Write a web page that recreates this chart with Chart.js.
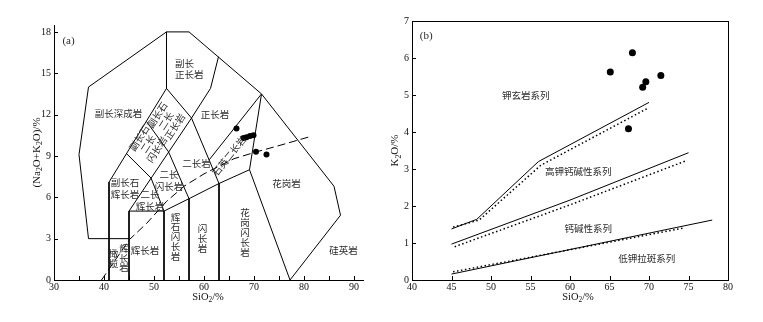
<!DOCTYPE html>
<html>
<head>
<meta charset="utf-8">
<script src="https://cdn.jsdelivr.net/npm/chart.js@4.4.0/dist/chart.umd.min.js"></script>
<style>
html, body { margin: 0; padding: 0; background: #fff; }
#wrap { position: relative; width: 763px; height: 322px; }
canvas { position: absolute; top: 0; }
</style>
</head>
<body>
<div id="wrap">
<canvas id="tas" width="380" height="322" style="left:0"></canvas>
<canvas id="kso" width="383" height="322" style="left:380px"></canvas>
</div>
<script>
// ---- (a) SiO2 vs Na2O+K2O field boundaries ----
const tasOuter = [[36.9,14],[52.5,18],[57,18],[71.5,13.5],[86,6.8],[87.3,4.7],[77.2,0]];
const tasLeft = [[36.9,14],[35,9.1],[36.9,3],[45,3]];
const foidSyeniteBase = [[52.5,18],[52.5,13.9],[57.5,11.75]];
const foidLine1 = [[52.5,13.9],[41,7.1],[41,0]];
const foidLine2 = [[57.5,11.75],[45,5],[45,0]];
const syeniteLeft = [[62.9,16.2],[61.3,13.9],[57.5,11.75],[63,7]];
const crossUpper = [[48.5,11.5],[52.9,9.3],[57,5.9]];
const crossLower = [[44.5,9.17],[49.4,7.4],[52,5]];
const subalkTop = [[45,5],[52,5],[57,5.9],[63,7],[69.1,8]];
const gabbroDiv = [[52,5],[52,0]];
const dioriteDiv = [[57,5.9],[57,0]];
const granodioriteDiv = [[63,7],[63,0]];
const graniteLeft = [[71.5,13.5],[69.1,8],[77.2,0]];
const qzMonzoniteDiv = [[61,8.7],[71.5,13.5]];
const alkalineDivide = [[39.5,0],[45,2.9],[48.5,4.1],[52.5,5.7],[56,6.8],[60,7.7],[66,8.8],[70.5,9.3],[75,9.75],[81.2,10.4]];
const samplesA = [[66.5,11.0],[67.9,10.3],[68.5,10.35],[69.2,10.45],[69.9,10.5],[70.4,9.3],[72.5,9.1]];
const tasXTicks = [30,35,40,45,50,55,60,65,70,75,80,85,90];
const tasXLabels = [30,40,50,60,70,80,90];
const tasYLabels = [0,3,6,9,12,15,18];

// ---- (b) SiO2 vs K2O series boundaries ----
const shoshSolid = [[45,1.38],[48.2,1.64],[56,3.2],[70,4.8]];
const shoshDotted = [[45.2,1.43],[48.5,1.62],[56.3,3.1],[70,4.66]];
const highKSolid = [[45,0.97],[60,2.16],[75,3.44]];
const highKDotted = [[45.4,0.9],[60,2.03],[74.8,3.23]];
const lowKSolid = [[45,0.16],[78,1.62]];
const lowKDotted = [[45.2,0.22],[74.5,1.41]];
const samplesB = [[65.1,5.62],[67.9,6.14],[69.6,5.36],[69.2,5.21],[71.5,5.53],[67.4,4.09]];
const ksoXLabels = [40,45,50,55,60,65,70,75,80];
const ksoYLabels = [0,1,2,3,4,5,6,7];

const cnFont = '9.5px "Noto Sans CJK SC"';
const serif = '"Liberation Serif", "Times New Roman", serif';

const tasLabels = [
  { t: ['(a)'], x: 32.9, y: 17.3, font: '11px ' + serif },
  { t: ['副长', '正长岩'], x: 54.2, y: 15.33, align: 'left' },
  { t: ['副长深成岩'], x: 42.9, y: 12.11 },
  { t: ['正长岩'], x: 62.2, y: 11.99 },
  { t: ['副长石', '二长', '正长岩'], x: 52.4, y: 11.55, rot: -57, lh: 10.5 },
  { t: ['副长石', '二长', '闪长岩'], x: 48.8, y: 9.88, rot: -57, lh: 10.5 },
  { t: ['二长岩'], x: 58.5, y: 8.48 },
  { t: ['石英二长岩'], x: 65, y: 9.0, rot: -51.5 },
  { t: ['二长', '闪长岩'], x: 53, y: 7.23 },
  { t: ['副长石', '辉长岩'], x: 44.2, y: 6.66 },
  { t: ['二长', '辉长岩'], x: 49.2, y: 5.78 },
  { t: ['辉长岩'], x: 48.2, y: 2.18 },
  { t: ['橄榄'], x: 41.9, y: 1.58, vertical: true },
  { t: ['辉长岩'], x: 44, y: 1.6, vertical: true },
  { t: ['辉石闪长岩'], x: 54.3, y: 3.15, vertical: true },
  { t: ['闪长岩'], x: 59.7, y: 3.03, vertical: true },
  { t: ['花岗闪长岩'], x: 68.2, y: 3.45, vertical: true },
  { t: ['花岗岩'], x: 76.5, y: 7.03 },
  { t: ['硅英岩'], x: 87.9, y: 2.18 }
];
const ksoLabels = [
  { t: ['(b)'], x: 41.8, y: 6.6, font: '11px ' + serif },
  { t: ['钾玄岩系列'], x: 54.4, y: 4.98 },
  { t: ['高钾钙碱性系列'], x: 61.05, y: 2.94 },
  { t: ['钙碱性系列'], x: 62.3, y: 1.40 },
  { t: ['低钾拉斑系列'], x: 69.7, y: 0.59 }
];

function pts(arr) { return arr.map(p => ({ x: p[0], y: p[1] })); }
function lineSet(arr, extra) {
  return Object.assign({ data: pts(arr), showLine: true, pointRadius: 0, borderColor: '#000',
    borderWidth: 1, fill: false }, extra || {});
}

function drawRich(ctx, parts, cx, cy, rot, size) {
  const big = size + 'px ' + serif, small = (size * 0.7) + 'px ' + serif;
  ctx.save();
  ctx.translate(cx, cy);
  ctx.rotate(rot);
  ctx.fillStyle = '#111';
  ctx.textBaseline = 'middle';
  ctx.textAlign = 'left';
  let w = 0;
  parts.forEach(p => { ctx.font = p[1] ? small : big; w += ctx.measureText(p[0]).width; });
  let xx = -w / 2;
  parts.forEach(p => {
    ctx.font = p[1] ? small : big;
    ctx.fillText(p[0], xx, p[1] ? size * 0.3 : 0);
    xx += ctx.measureText(p[0]).width;
  });
  ctx.restore();
}

const decor = {
  id: 'decor',
  afterDraw(chart, args, o) {
    const { ctx, chartArea: a, scales: { x, y } } = chart;
    ctx.save();
    ctx.strokeStyle = '#000';
    ctx.lineWidth = 1;
    if (o.frame) ctx.strokeRect(Math.round(a.left) + 0.5, Math.round(a.top) + 0.5,
      Math.round(a.right - a.left), Math.round(a.bottom - a.top));
    // inner ticks
    ctx.beginPath();
    o.xTicks.forEach(v => {
      const px = Math.round(x.getPixelForValue(v)) + 0.5;
      ctx.moveTo(px, a.bottom); ctx.lineTo(px, a.bottom - 4);
    });
    o.yTicks.forEach(v => {
      const py = Math.round(y.getPixelForValue(v)) + 0.5;
      ctx.moveTo(a.left, py); ctx.lineTo(a.left + 4, py);
    });
    ctx.stroke();
    ctx.restore();
    // axis titles
    drawRich(ctx, o.xTitle, o.xTitlePos[0], o.xTitlePos[1], 0, 10.5);
    drawRich(ctx, o.yTitle, o.yTitlePos[0], (a.top + a.bottom) / 2, -Math.PI / 2, 11);
    // field labels
    o.labels.forEach(l => {
      const px = x.getPixelForValue(l.x), py = y.getPixelForValue(l.y);
      ctx.save();
      ctx.translate(px, py);
      ctx.rotate((l.rot || 0) * Math.PI / 180);
      ctx.font = l.font || cnFont;
      ctx.fillStyle = '#2b2b2b';
      ctx.textAlign = l.align || 'center';
      ctx.textBaseline = 'middle';
      const lines = l.vertical ? Array.from(l.t[0]) : l.t;
      const lh = l.vertical ? 9.8 : (l.lh || 11.5);
      lines.forEach((s, i) => ctx.fillText(s, 0, (i - (lines.length - 1) / 2) * lh));
      ctx.restore();
    });
  }
};

function axes(xMin, xMax, yMin, yMax, xLabels, yLabels, yWidth, xPad) {
  const tickFont = { family: serif, size: 10 };
  return {
    x: {
      type: 'linear', min: xMin, max: xMax,
      afterBuildTicks: s => { s.ticks = xLabels.map(v => ({ value: v })); },
      afterFit: s => { s.height = 42; },
      grid: { display: false, drawTicks: false },
      border: { display: true, color: '#000', width: 1 },
      ticks: { font: tickFont, color: '#111', padding: xPad, maxRotation: 0, autoSkip: false }
    },
    y: {
      type: 'linear', min: yMin, max: yMax,
      afterBuildTicks: s => { s.ticks = yLabels.map(v => ({ value: v })); },
      afterFit: s => { s.width = yWidth; },
      grid: { display: false, drawTicks: false },
      border: { display: true, color: '#000', width: 1 },
      ticks: { font: tickFont, color: '#111', padding: 3, autoSkip: false }
    }
  };
}

const common = {
  responsive: false,
  animation: false,
  devicePixelRatio: 1,
  plugins: { legend: { display: false }, tooltip: { enabled: false } }
};

new Chart(document.getElementById('tas'), {
  type: 'scatter',
  data: {
    datasets: [
      lineSet(tasOuter), lineSet(tasLeft), lineSet(foidSyeniteBase), lineSet(foidLine1),
      lineSet(foidLine2), lineSet(syeniteLeft), lineSet(crossUpper), lineSet(crossLower),
      lineSet(subalkTop), lineSet(gabbroDiv), lineSet(dioriteDiv), lineSet(granodioriteDiv),
      lineSet(graniteLeft), lineSet(qzMonzoniteDiv),
      lineSet(alkalineDivide, { borderDash: [8, 4] }),
      { data: pts(samplesA), pointRadius: 3, backgroundColor: '#000', borderWidth: 0 }
    ]
  },
  options: Object.assign({}, common, {
    layout: { padding: { left: 0, right: 17, top: 25, bottom: 0 } },
    scales: axes(30, 91.8, 0, 18.5, tasXLabels, tasYLabels, 54, 1),
    plugins: Object.assign({}, common.plugins, {
      decor: {
        frame: false, xTicks: tasXTicks, yTicks: tasYLabels, labels: tasLabels,
        xTitle: [['SiO', 0], ['2', 1], ['/%', 0]], xTitlePos: [208, 297],
        yTitle: [['(Na', 0], ['2', 1], ['O+K', 0], ['2', 1], ['O)/%', 0]], yTitlePos: [37]
      }
    })
  }),
  plugins: [decor]
});

new Chart(document.getElementById('kso'), {
  type: 'scatter',
  data: {
    datasets: [
      lineSet(shoshSolid), lineSet(shoshDotted, { borderDash: [1.5, 2.5], borderWidth: 1.5 }),
      lineSet(highKSolid), lineSet(highKDotted, { borderDash: [1.5, 2.5], borderWidth: 1.5 }),
      lineSet(lowKSolid), lineSet(lowKDotted, { borderDash: [1.5, 2.5], borderWidth: 1.5 }),
      { data: pts(samplesB), pointRadius: 3.5, backgroundColor: '#000', borderWidth: 0 }
    ]
  },
  options: Object.assign({}, common, {
    layout: { padding: { left: 0, right: 35, top: 21, bottom: 0 } },
    scales: axes(40, 80, 0, 7, ksoXLabels, ksoYLabels, 32, 1),
    plugins: Object.assign({}, common.plugins, {
      decor: {
        frame: true, xTicks: ksoXLabels, yTicks: ksoYLabels, labels: ksoLabels,
        xTitle: [['SiO', 0], ['2', 1], ['/%', 0]], xTitlePos: [198, 297],
        yTitle: [['K', 0], ['2', 1], ['O/%', 0]], yTitlePos: [15.5]
      }
    })
  }),
  plugins: [decor]
});
</script>
</body>
</html>
